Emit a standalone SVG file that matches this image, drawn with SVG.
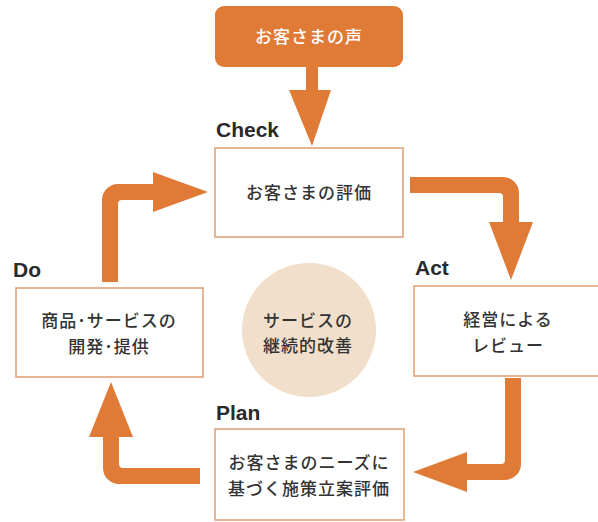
<svg xmlns="http://www.w3.org/2000/svg" width="598" height="522" viewBox="0 0 598 522">
<style>
.box{fill:#ffffff;stroke:#e2a37a;stroke-width:1.6}
.arr{fill:#e07b37}
.jp{font-family:"Noto Sans CJK JP","Noto Sans",sans-serif;font-size:17px;font-weight:500;fill:#333333;text-anchor:middle;letter-spacing:1px}
.lbl{font-family:"Liberation Sans","DejaVu Sans",sans-serif;font-weight:bold;font-size:21px;fill:#2a2a2a}
</style>
<rect width="598" height="522" fill="#ffffff"/>
<g id="connectors">
<path class="arr" d="M306,66 H318 V90 H331 L312,146 L289,90 H306 Z"/>
<path class="arr" d="M102,282 V200 A16,16 0 0 1 118,184 H153 V172 L208,192 L153,212 V200 H122 A4,4 0 0 0 118,204 V282 Z"/>
<path class="arr" d="M410,177 H503 A16,16 0 0 1 519,193 V222 H533 L511,280 L489,222 H503 V197 A4,4 0 0 0 499,193 H410 Z"/>
<path class="arr" d="M505,378 H521 V464 A16,16 0 0 1 505,480 H467 V492 L413,472 L467,452 V464 H501 A4,4 0 0 0 505,460 Z"/>
<path class="arr" d="M200,468 V484 H119 A16,16 0 0 1 103,468 V437 H89 L111,382 L133,437 H119 V464 A4,4 0 0 0 123,468 Z"/>
</g>
<g id="voice">
<rect x="215" y="6" width="188" height="61" rx="9" fill="#e07b37"/>
<text class="jp" x="309" y="43" style="fill:#ffffff">お客さまの声</text>
</g>
<g id="check">
<text class="lbl" x="216" y="137">Check</text>
<rect class="box" x="215" y="148" width="188" height="89"/>
<text class="jp" x="309" y="199">お客さまの評価</text>
</g>
<g id="do">
<text class="lbl" x="13" y="277">Do</text>
<rect class="box" x="16" y="288" width="187" height="89"/>
<text class="jp" x="109" y="327">商品･サービスの</text>
<text class="jp" x="109" y="353">開発･提供</text>
</g>
<g id="act">
<text class="lbl" x="415" y="275">Act</text>
<rect class="box" x="414" y="286" width="190" height="90"/>
<text class="jp" x="508" y="326">経営による</text>
<text class="jp" x="508" y="352">レビュー</text>
</g>
<g id="plan">
<text class="lbl" x="216" y="420">Plan</text>
<rect class="box" x="215" y="429" width="189" height="91"/>
<text class="jp" x="309" y="469">お客さまのニーズに</text>
<text class="jp" x="309" y="495">基づく施策立案評価</text>
</g>
<g id="center">
<circle cx="309" cy="330" r="67" fill="#f1dfcb"/>
<text class="jp" x="308" y="327">サービスの</text>
<text class="jp" x="308" y="352">継続的改善</text>
</g>
</svg>
